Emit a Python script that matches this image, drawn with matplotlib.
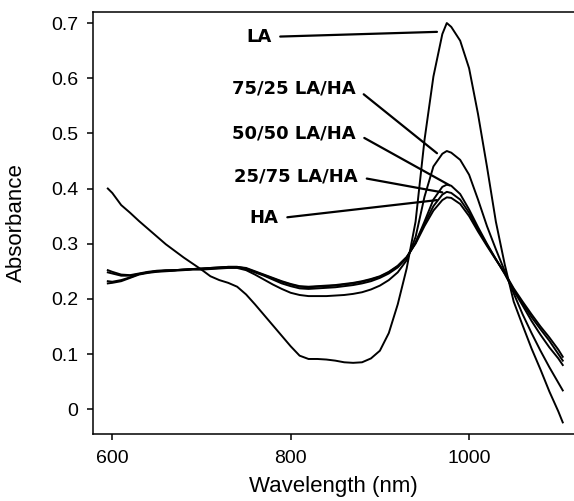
import matplotlib
matplotlib.use("Agg")
import matplotlib.pyplot as plt

# wavelength grid (nm) shared by all spectra
wavelength = [595, 600, 610, 620, 630, 640, 650, 660, 670, 680, 690, 700, 710, 720,
              730, 740, 750, 760, 770, 780, 790, 800, 810, 820, 830, 840, 850, 860,
              870, 880, 890, 900, 910, 920, 930, 940, 950, 960, 970, 975, 980, 990,
              1000, 1010, 1020, 1030, 1040, 1050, 1060, 1070, 1080, 1090, 1100, 1105]

abs_la = [0.400, 0.392, 0.370, 0.356, 0.341, 0.327, 0.313, 0.299, 0.287, 0.275, 0.264,
          0.253, 0.241, 0.234, 0.229, 0.222, 0.208, 0.190, 0.171, 0.152, 0.133, 0.114,
          0.097, 0.091, 0.091, 0.090, 0.088, 0.085, 0.084, 0.085, 0.092, 0.106, 0.138,
          0.190, 0.255, 0.340, 0.488, 0.603, 0.680, 0.700, 0.693, 0.668, 0.618, 0.535,
          0.440, 0.340, 0.262, 0.195, 0.152, 0.110, 0.072, 0.032, -0.004, -0.024]

abs_75_25 = [0.228, 0.229, 0.232, 0.238, 0.244, 0.247, 0.249, 0.250, 0.251, 0.252, 0.253,
             0.253, 0.254, 0.255, 0.256, 0.256, 0.252, 0.244, 0.235, 0.226, 0.218, 0.211,
             0.207, 0.205, 0.205, 0.205, 0.206, 0.207, 0.209, 0.212, 0.217, 0.224, 0.234,
             0.248, 0.270, 0.312, 0.385, 0.440, 0.463, 0.468, 0.465, 0.452, 0.425, 0.380,
             0.332, 0.290, 0.250, 0.210, 0.172, 0.138, 0.106, 0.076, 0.048, 0.034]

abs_50_50 = [0.232, 0.231, 0.234, 0.239, 0.245, 0.248, 0.250, 0.251, 0.252, 0.253, 0.254,
             0.254, 0.255, 0.256, 0.257, 0.257, 0.254, 0.248, 0.242, 0.235, 0.228, 0.223,
             0.219, 0.218, 0.219, 0.220, 0.221, 0.223, 0.225, 0.228, 0.232, 0.238, 0.246,
             0.257, 0.274, 0.302, 0.340, 0.380, 0.403, 0.407, 0.405, 0.390, 0.362, 0.330,
             0.300, 0.272, 0.245, 0.215, 0.188, 0.160, 0.135, 0.112, 0.092, 0.080]

abs_25_75 = [0.248, 0.246, 0.242, 0.242, 0.245, 0.248, 0.250, 0.251, 0.252, 0.253, 0.254,
             0.255, 0.256, 0.257, 0.258, 0.258, 0.255, 0.249, 0.243, 0.237, 0.231, 0.226,
             0.222, 0.221, 0.222, 0.223, 0.224, 0.226, 0.228, 0.231, 0.235, 0.240, 0.248,
             0.259, 0.275, 0.302, 0.336, 0.368, 0.389, 0.394, 0.392, 0.380, 0.356, 0.326,
             0.298, 0.272, 0.246, 0.217, 0.192, 0.167, 0.145, 0.124, 0.100, 0.088]

abs_ha = [0.252, 0.249, 0.244, 0.243, 0.246, 0.249, 0.251, 0.252, 0.252, 0.253, 0.254,
          0.255, 0.256, 0.257, 0.258, 0.258, 0.256, 0.250, 0.244, 0.238, 0.232, 0.227,
          0.223, 0.222, 0.223, 0.224, 0.225, 0.227, 0.229, 0.232, 0.236, 0.241, 0.249,
          0.260, 0.276, 0.300, 0.332, 0.360, 0.379, 0.384, 0.383, 0.372, 0.350, 0.322,
          0.296, 0.271, 0.247, 0.219, 0.195, 0.172, 0.150, 0.130, 0.108, 0.095]

labels = ["LA", "75/25 LA/HA", "50/50 LA/HA", "25/75 LA/HA", "HA"]
series = [abs_la, abs_75_25, abs_50_50, abs_25_75, abs_ha]

x_ticks = [600, 800, 1000]
y_ticks = [0, 0.1, 0.2, 0.3, 0.4, 0.5, 0.6, 0.7]
y_ticklabels = ["0", "0.1", "0.2", "0.3", "0.4", "0.5", "0.6", "0.7"]

# label placement (text centre, line end) in data units
label_text_pos = [(764, 0.675), (804, 0.582), (804, 0.500), (806, 0.421), (770, 0.346)]
label_line_end = [(964, 0.684), (964, 0.464), (978, 0.406), (970, 0.393), (964, 0.379)]

fig = plt.figure(figsize=(5.74, 5.01), dpi=100)
ax = fig.add_axes([93 / 574, 1 - 434 / 501, 1 - 93 / 574, (434 - 12) / 501])

for y in series:
    ax.plot(wavelength, y, color="black", lw=1.4)

# leader lines leave each label from its right side
for lab, tpos, end in zip(labels, label_text_pos, label_line_end):
    ax.annotate(lab, xy=end, xytext=tpos, ha="center", va="center",
                fontsize=13, fontweight="bold", family="DejaVu Sans",
                arrowprops=dict(arrowstyle="-", color="black", lw=1.6,
                                relpos=(1.0, 0.5), shrinkA=4.5, shrinkB=0))

ax.set_xlim(578.4, 1117.6)
ax.set_ylim(-0.045, 0.72)
ax.set_xticks(x_ticks)
ax.set_xticklabels([str(t) for t in x_ticks], family="Liberation Sans", fontsize=14)
ax.set_yticks(y_ticks)
ax.set_yticklabels(y_ticklabels, family="Liberation Sans", fontsize=14)
ax.tick_params(direction="out", length=4.5, width=1.1)
ax.tick_params(axis="x", pad=7)
ax.tick_params(axis="y", pad=6)

ax.spines["right"].set_visible(False)
for s in ["left", "top", "bottom"]:
    ax.spines[s].set_linewidth(1.1)

ax.set_xlabel("Wavelength (nm)", family="Liberation Sans", fontsize=16)
ax.set_ylabel("Absorbance", family="Liberation Sans", fontsize=16)
ax.xaxis.set_label_coords(0.5, -0.1)
ax.yaxis.set_label_coords(-0.137, 0.5)

fig.savefig("out.png", dpi=100)
